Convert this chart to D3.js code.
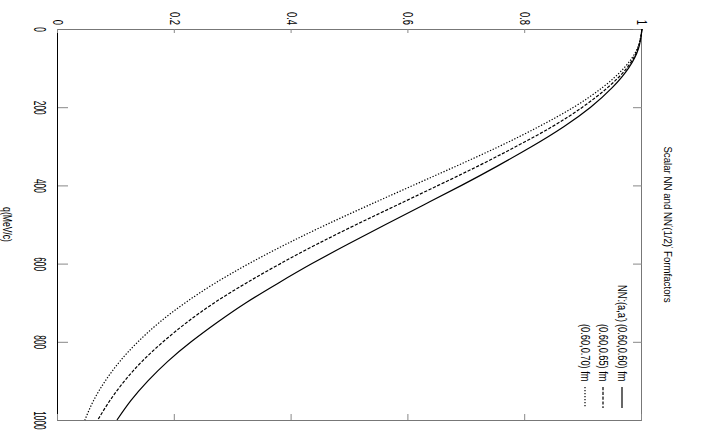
<!DOCTYPE html>
<html><head><meta charset="utf-8">
<script src="https://cdn.jsdelivr.net/npm/d3@7"></script>
<style>
body{margin:0;background:#fff;}
svg text{font-family:"Liberation Sans",Arial,Helvetica,sans-serif;fill:#000;}
</style></head>
<body><svg id="c" width="702" height="436"></svg>
<script>
// q in MeV/c
const qValues = [0,50,100,150,200,250,300,350,400,450,500,550,600,650,700,750,800,850,900,950,1000];
// (a,a') = (0.60,0.60) fm  -- solid
const ff060 = [1,0.994,0.977,0.949,0.912,0.866,0.812,0.753,0.691,0.626,0.561,0.497,0.435,0.377,0.322,0.273,0.228,0.188,0.154,0.125,0.101];
// (0.60,0.65) fm -- dashed
const ff065 = [1,0.993,0.974,0.941,0.898,0.846,0.785,0.720,0.651,0.581,0.511,0.444,0.381,0.322,0.268,0.221,0.180,0.144,0.114,0.089,0.068];
// (0.60,0.70) fm -- dotted
const ff070 = [1,0.992,0.969,0.932,0.883,0.823,0.756,0.683,0.608,0.533,0.460,0.391,0.327,0.269,0.218,0.174,0.137,0.106,0.081,0.061,0.046];
const seriesLabels = ["(0.60,0.60) fm","(0.60,0.65) fm","(0.60,0.70) fm"];
const qTicks = [0,200,400,600,800,1000];
const yTicks = [0,0.2,0.4,0.6,0.8,1];

const series = [
  {vals: ff060, dash: null, label: seriesLabels[0]},
  {vals: ff065, dash: "3.2,1.6", label: seriesLabels[1]},
  {vals: ff070, dash: "1.3,1.7", label: seriesLabels[2]}
];

const svg = d3.select("#c");
// whole chart drawn in portrait orientation, then rotated 90deg clockwise
const g = svg.append("g").attr("transform","translate(702,0) rotate(90)");

const L=29, R=420, T=60, B=644;
const x = d3.scaleLinear().domain([0,1000]).range([L,R]);
const y = d3.scaleLinear().domain([0,1]).range([B,T]);

// axes
const axB = g.append("g").attr("transform",`translate(0,${B})`)
  .call(d3.axisBottom(x).tickValues(qTicks).tickSizeInner(-10).tickSizeOuter(0).tickPadding(13).tickFormat(d3.format("d")));
const axL = g.append("g").attr("transform",`translate(${L},0)`)
  .call(d3.axisLeft(y).tickValues(yTicks).tickSizeInner(-4).tickSizeOuter(0).tickPadding(4)
    .tickFormat(d => (d===0||d===1)? String(d) : d.toFixed(1)));
const axT = g.append("g").attr("transform",`translate(0,${T})`)
  .call(d3.axisTop(x).tickValues(qTicks).tickSizeInner(-9).tickSizeOuter(0).tickFormat(""));
const axR = g.append("g").attr("transform",`translate(${R},0)`)
  .call(d3.axisRight(y).tickValues(yTicks).tickSizeInner(-6).tickSizeOuter(0).tickFormat(""));
[axB,axL,axT,axR].forEach(a=>{
  a.selectAll("text").attr("font-family",null).attr("fill","#000");
  a.selectAll(".tick line").attr("stroke","#888");
  a.select(".domain").attr("stroke","#777");
});
axB.select(".domain").attr("stroke","#000");
// condensed tick labels
axB.selectAll("text").attr("font-size",16).attr("transform","scale(0.52,1)");
axL.selectAll("text").attr("font-size",14).attr("x",0).attr("transform","translate(-4,0) scale(0.67,1)");

// curves
const line = d3.line().x((d,i)=>x(qValues[i])).y(d=>y(d)).curve(d3.curveNatural);
series.forEach(s=>{
  g.append("path").datum(s.vals).attr("d",line)
    .attr("fill","none").attr("stroke","#000").attr("stroke-width",1.2)
    .attr("stroke-dasharray",s.dash);
});

function ctext(px,py,size,sx,anchor){
  return g.append("text").attr("transform",`translate(${px},${py}) scale(${sx},1)`)
    .attr("font-size",size).attr("text-anchor",anchor);
}

// title
const title = ctext((L+R)/2,38,11,0.88,"middle");
title.append("tspan").text("Scalar NN and NN");
title.append("tspan").attr("dy",-4).attr("font-size",7).text("'");
title.append("tspan").attr("dy",4).text("(1/2)");
title.append("tspan").attr("dy",-4).attr("font-size",7).text("'");
title.append("tspan").attr("dy",4).text(" Formfactors");

// x label
ctext((L+R)/2,699,13,0.66,"middle").text("q(MeV/c)");

// legend
const rowY = [84,103,121];
const pre = ctext(322,rowY[0],12.5,0.74,"end");
pre.append("tspan").text("NN");
pre.append("tspan").attr("dy",-4).attr("font-size",7).text("'");
pre.append("tspan").attr("dy",4).text(":(a,a");
pre.append("tspan").attr("dy",-4).attr("font-size",7).text("'");
pre.append("tspan").attr("dy",4).text(")");
series.forEach((s,i)=>{
  ctext(324,rowY[i],12.5,0.74,"start").text(s.label);
  g.append("line").attr("x1",387).attr("x2",408).attr("y1",rowY[i]-4).attr("y2",rowY[i]-4)
    .attr("stroke","#000").attr("stroke-width",1.2).attr("stroke-dasharray",s.dash);
});
</script></body></html>
